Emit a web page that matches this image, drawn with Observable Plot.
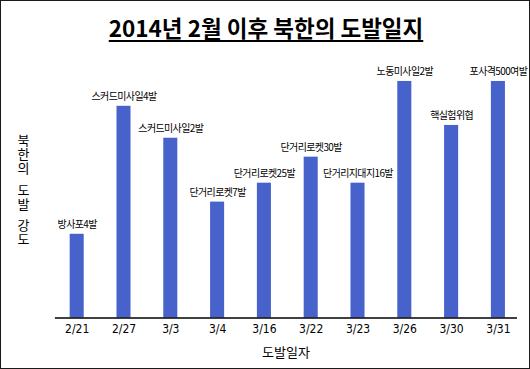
<!DOCTYPE html>
<html>
<head>
<meta charset="utf-8">
<script src="https://cdn.jsdelivr.net/npm/d3@7"></script>
<script src="https://cdn.jsdelivr.net/npm/@observablehq/plot@0.6"></script>
<style>
  html, body { margin: 0; padding: 0; background: #fff; }
  #frame { position: relative; width: 530px; height: 369px; box-sizing: border-box; border: 1px solid #1a1a1a; overflow: hidden; background: #fff; }
  #title { position: absolute; left: 0; width: 530px; top: 11px; text-align: center; font-family: "Noto Sans CJK KR", sans-serif; font-weight: 700; font-size: 22.5px; line-height: 30px; color: #000; }
  #title span { text-decoration: underline; text-underline-offset: 3px; text-decoration-thickness: 1.5px; }
  #chart { position: absolute; left: -1px; top: 59px; }
  #chart svg { overflow: visible; }
  #ylabel { position: absolute; left: 15px; top: 133px; writing-mode: vertical-rl; text-orientation: upright; font-family: "Noto Sans CJK KR", sans-serif; font-size: 13px; letter-spacing: 1px; line-height: 14px; color: #000; }
  #ylabel span { display: inline-block; }
  #ylabel span + span { margin-top: 7.5px; }
  #xlabel { position: absolute; left: 235px; width: 100px; top: 342px; text-align: center; font-family: "Noto Sans CJK KR", sans-serif; font-size: 13px; line-height: 18px; color: #000; }
</style>
</head>
<body>
<div id="frame">
  <div id="title"><span>2014년 2월 이후 북한의 도발일지</span></div>
  <div id="chart"></div>
  <div id="ylabel"></div>
  <div id="xlabel"></div>
</div>
<script>
const title = "2014년 2월 이후 북한의 도발일지";
const yLabelWords = ["북한의", "도발", "강도"];
const xLabel = "도발일자";
const dates = ["2/21", "2/27", "3/3", "3/4", "3/16", "3/22", "3/23", "3/26", "3/30", "3/31"];
const intensity = [3.54, 8.95, 7.6, 4.9, 5.7, 6.8, 5.7, 10, 8.14, 10];
const events = ["방사포4발", "스커드미사일4발", "스커드미사일2발", "단거리로켓7발", "단거리로켓25발", "단거리로켓30발", "단거리지대지16발", "노동미사일2발", "핵실험위협", "포사격500여발"];

const data = dates.map((d, i) => ({date: d, value: intensity[i], event: events[i]}));

document.querySelector("#title span").textContent = title;
document.getElementById("xlabel").textContent = xLabel;
const yl = document.getElementById("ylabel");
yLabelWords.forEach(w => { const s = document.createElement("span"); s.textContent = w; yl.appendChild(s); });

const chart = Plot.plot({
  width: 530,
  height: 280,
  marginTop: 21,
  marginBottom: 22,
  marginLeft: 55,
  marginRight: 12,
  style: {fontFamily: "'Liberation Sans Narrow', 'DejaVu Sans Condensed', sans-serif", fontSize: "12px", color: "#000", background: "transparent"},
  x: {type: "band", domain: dates, paddingInner: 0.7, paddingOuter: 0.287, align: 0.55, round: false, label: null, tickSize: 0, tickPadding: 6},
  y: {domain: [0, 10], axis: null},
  marks: [
    Plot.barY(data, {x: "date", y: "value", fill: "#4763cb"}),
    Plot.ruleY([0], {stroke: "#000", strokeWidth: 1.3}),
    Plot.text(data, {x: "date", y: "value", text: "event", dy: -9.5, fontSize: 10, fill: "#000", fontFamily: "'Noto Sans CJK KR', sans-serif"})
  ]
});
document.getElementById("chart").appendChild(chart);
chart.querySelectorAll("text").forEach(t => { if (/[가-힣]/.test(t.textContent)) t.setAttribute("letter-spacing", "-0.6"); });
</script>
</body>
</html>
